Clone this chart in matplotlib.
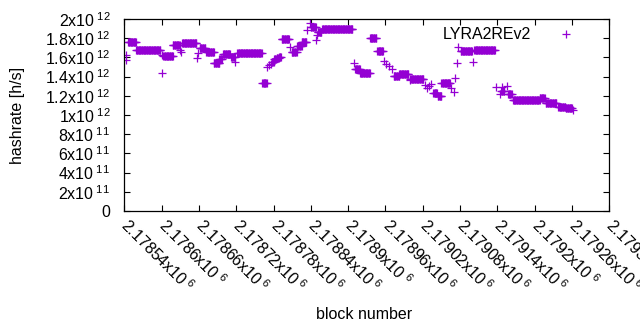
import numpy as np
import matplotlib
matplotlib.use("Agg")
import matplotlib.pyplot as plt
from matplotlib.ticker import FuncFormatter, MultipleLocator

plt.rcParams["font.family"] = ["Liberation Sans", "DejaVu Sans"]
plt.rcParams["mathtext.fontset"] = "custom"
plt.rcParams["mathtext.rm"] = "Liberation Sans"
plt.rcParams["mathtext.it"] = "Liberation Sans:italic"
plt.rcParams["mathtext.bf"] = "Liberation Sans:bold"

# Runs of constant hashrate: first block, last block, hashrate (x1e12 h/s)
BASE = 2178540
run_start = [2, 3, 6, 19, 60, 61, 63, 78, 90, 91, 93, 117, 119, 121, 132, 144, 153, 159, 172,
             178, 182, 222, 229, 232, 236, 237, 241, 245, 249, 253, 266, 269, 278, 285, 294, 299,
             300, 309, 310, 311, 318, 369, 371, 379, 395, 407, 418, 421, 426, 430, 433, 442,
             459, 460, 484, 487, 490, 493, 497, 504, 510, 526, 530, 532, 535, 537, 541, 560,
             563, 598, 604, 606, 608, 615, 617, 625, 668, 678, 698, 710, 721]
run_end = [2, 3, 19, 58, 60, 61, 78, 89, 90, 91, 116, 117, 119, 130, 144, 153, 157, 170, 178,
           178, 221, 229, 229, 232, 236, 240, 244, 248, 252, 265, 266, 277, 285, 293, 294, 299,
           308, 309, 310, 317, 367, 369, 379, 395, 405, 416, 418, 421, 426, 430, 442, 457,
           459, 481, 484, 487, 490, 493, 503, 510, 524, 526, 530, 532, 535, 537, 559, 560,
           596, 598, 604, 611, 608, 615, 623, 668, 676, 695, 709, 720, 721]
run_value = [1.625, 1.573, 1.760, 1.682, 1.620, 1.434, 1.611, 1.729, 1.677, 1.656, 1.750, 1.597,
             1.646, 1.695, 1.653, 1.545, 1.580, 1.639, 1.599, 1.557, 1.651, 1.330, 1.500, 1.516,
             1.531, 1.555, 1.580, 1.590, 1.600, 1.789, 1.711, 1.661, 1.722, 1.764, 1.885, 1.955,
             1.917, 1.781, 1.833, 1.868, 1.896, 1.542, 1.479, 1.434, 1.799, 1.664, 1.563, 1.536,
             1.510, 1.479, 1.410, 1.424, 1.365, 1.372, 1.313, 1.281, 1.302, 1.323, 1.230, 1.200,
             1.330, 1.280, 1.240, 1.382, 1.542, 1.705, 1.670, 1.557, 1.677, 1.295, 1.219, 1.250,
             1.290, 1.302, 1.214, 1.156, 1.174, 1.122, 1.086, 1.076, 1.047]

blocks = []
hashrate = []
for s, e, v in zip(run_start, run_end, run_value):
    for b in range(s, e + 1):
        blocks.append(BASE + b)
        hashrate.append(v * 1e12)

series_name = "LYRA2REv2"
color = "#9400d3"
FS = 11.5

fig = plt.figure(figsize=(6.4, 3.3), dpi=100)
ax = fig.add_axes([124.3 / 640, 1 - 211 / 330, (609.3 - 124.3) / 640, (211 - 19) / 330])

ax.plot(blocks, hashrate, linestyle="none", marker="+", markersize=6.3,
        markeredgewidth=0.9, color=color, label=series_name)

ax.set_xlim(2178540, 2179320)
ax.set_ylim(0, 2e12)
ax.xaxis.set_major_locator(MultipleLocator(60))
ax.yaxis.set_major_locator(MultipleLocator(2e11))


def yfmt(v, pos):
    if abs(v) < 1:
        return "0"
    if v < 0:
        return ""
    exp = int(np.floor(np.log10(v) + 1e-9))
    m = v / 10 ** exp
    return r"$\mathregular{%gx10^{\ %d}}$" % (round(m, 4), exp)


def xfmt(v, pos):
    m = v / 1e6
    return r"$\mathregular{%gx10^{\ 6}}$" % round(m, 6)


ax.yaxis.set_major_formatter(FuncFormatter(yfmt))
ax.xaxis.set_major_formatter(FuncFormatter(xfmt))

ax.tick_params(direction="in", length=4, width=0.8, top=True, right=True,
               labelsize=FS, colors="black")
ax.tick_params(axis="y", pad=10)
ax.tick_params(axis="x", pad=8, labelrotation=-45)
plt.setp(ax.get_xticklabels(), ha="left", va="center", rotation_mode="anchor")

for sp in ax.spines.values():
    sp.set_linewidth(0.9)

ax.set_ylabel("hashrate [h/s]", fontsize=FS)
ax.set_xlabel("block number", fontsize=FS)
ax.yaxis.set_label_coords(-0.205, 0.5)
ax.xaxis.set_label_coords(0.495, -0.5)

leg = ax.legend(loc="upper right", bbox_to_anchor=(0.974, 1.016), frameon=False,
                markerfirst=False, fontsize=FS, handlelength=2.5, handletextpad=0.9,
                borderaxespad=0.3)

fig.savefig("out.png", dpi=100)
